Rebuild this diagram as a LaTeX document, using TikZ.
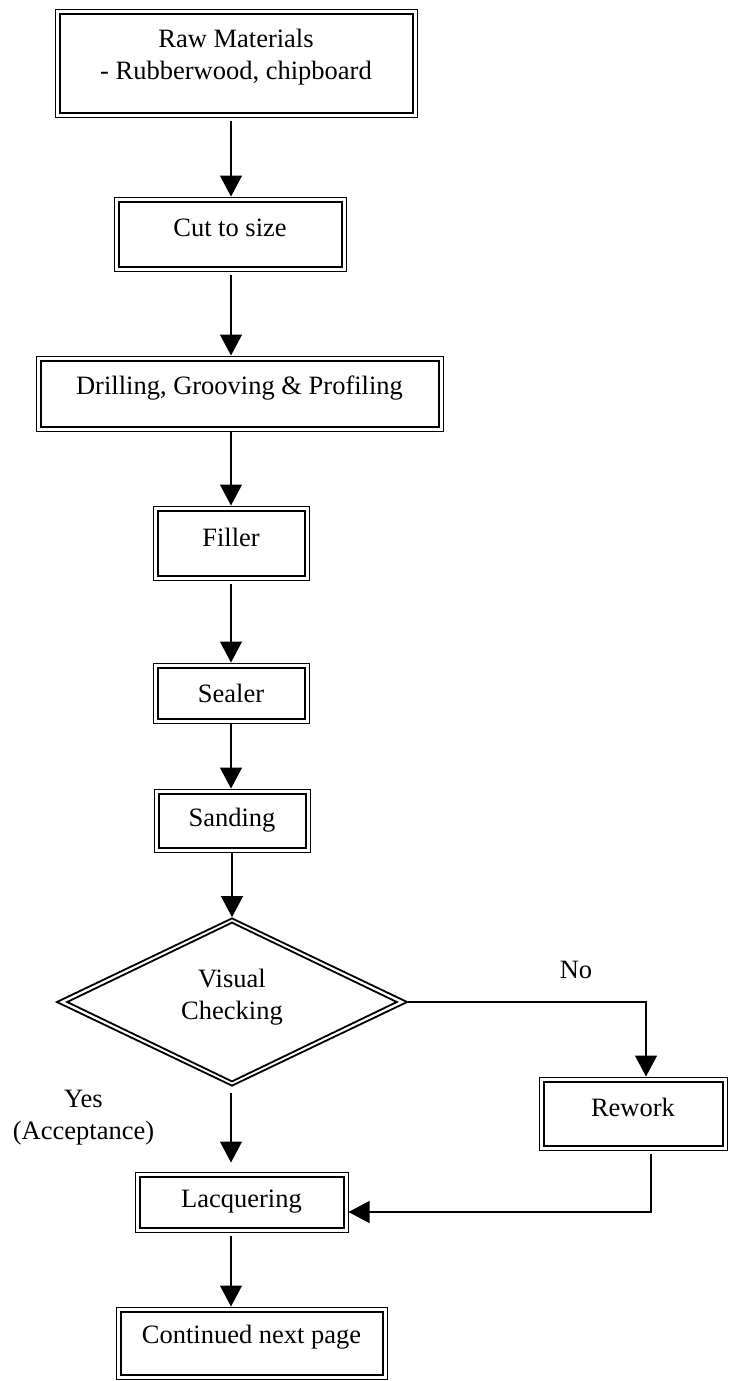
\documentclass[tikz,border=0pt]{standalone}
\usepackage{fontspec}
\setmainfont{Liberation Serif}
\usetikzlibrary{shapes.geometric,arrows.meta}
\begin{document}
\begin{tikzpicture}[x=0.5pt,y=-0.5pt,
  txt/.style={font=\fontsize{13.25pt}{16pt}\selectfont},
  procbox/.style={txt, draw, line width=0.5pt, rectangle, inner sep=0pt, align=center},
  dec/.style={txt, draw, line width=0.9pt, diamond, inner sep=0pt, align=center, aspect=2.09},
  flow/.style={draw, line width=0.65pt, -{Triangle[length=10.5pt,width=11pt]}},
  innerline/.style={line width=1pt},
  lbl/.style={txt, align=center}]
\useasboundingbox (0,0) rectangle (729,1381);
\coordinate (sp) at (231,0);

\node[procbox, minimum width=181pt, minimum height=54pt, text depth=8.4pt] (raw) at (236,63) {Raw Materials\\- Rubberwood, chipboard};
\node[procbox, minimum width=116pt, minimum height=37pt, text depth=6pt] (cut) at (230,234) {Cut to size};
\node[procbox, minimum width=203.5pt, minimum height=37.5pt, text depth=8.4pt] (drill) at (239.5,393.5) {Drilling, Grooving \& Profiling};
\node[procbox, minimum width=78pt, minimum height=37pt, text depth=6pt] (filler) at (231,543) {Filler};
\node[procbox, minimum width=78pt, minimum height=30pt] (sealer) at (231,693) {Sealer};
\node[procbox, minimum width=78pt, minimum height=31.5pt] (sanding) at (232,820.5) {Sanding};
\node[dec, minimum width=175.5pt, minimum height=84pt, text depth=7.9pt] (d) at (232,1002) {Visual\\Checking};
\node[procbox, minimum width=94pt, minimum height=36.5pt, text depth=6pt] (rework) at (633,1113.5) {Rework};
\node[procbox, minimum width=106.5pt, minimum height=30pt] (lacq) at (241.5,1202) {Lacquering};
\node[procbox, minimum width=135.5pt, minimum height=36pt, text depth=8.4pt] (cont) at (251.5,1343) {Continued next page};

\foreach \n in {raw,cut,drill,filler,sealer,sanding,rework,lacq,cont}
  \draw[innerline] ([shift={(5,5)}]\n.north west) rectangle ([shift={(-5,-5)}]\n.south east);
\draw[line width=0.9pt] ([yshift=-2.75pt]d.north) -- ([xshift=-5.8pt]d.east) -- ([yshift=2.75pt]d.south) -- ([xshift=5.8pt]d.west) -- cycle;

\node[lbl] (no) at (576,970) {No};
\node[lbl] (yes) at (83.5,1118) {Yes\\(Acceptance)};

\draw[flow, shorten <=1.5pt] (raw.south -| sp) -- (cut.north -| sp);
\draw[flow, shorten <=1.5pt] (cut.south -| sp) -- (drill.north -| sp);
\draw[flow] (drill.south -| sp) -- (filler.north -| sp);
\draw[flow, shorten <=1.5pt] (filler.south -| sp) -- (sealer.north -| sp);
\draw[flow] (sealer.south -| sp) -- (sanding.north -| sp);
\draw[flow] (sanding.south -| d.north) -- (d.north);
\draw[flow, shorten <=3pt, shorten >=4.5pt] (d.south -| sp) -- (lacq.north -| sp);
\draw[flow, shorten <=1.5pt] (lacq.south -| sp) -- (cont.north -| sp);
\draw[flow] (d.east) -| ([xshift=6.5pt]rework.north);
\draw[flow] ([xshift=9pt,yshift=-1.5pt]rework.south) |- ([yshift=-5pt]lacq.east);
\end{tikzpicture}
\end{document}
